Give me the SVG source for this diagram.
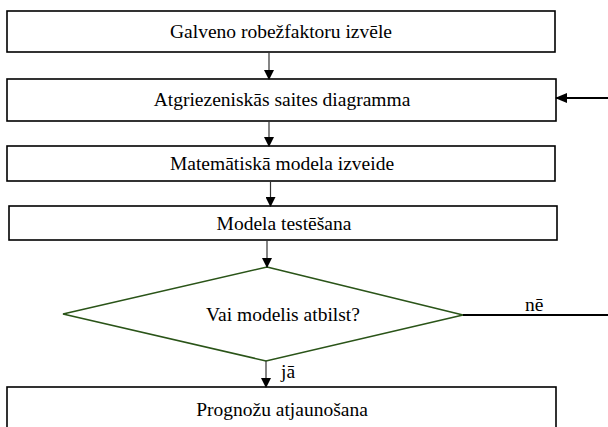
<svg xmlns="http://www.w3.org/2000/svg" width="608" height="427" viewBox="0 0 608 427">
<defs>
<marker id="ah" markerWidth="10" markerHeight="10" refX="9" refY="5" orient="auto" markerUnits="userSpaceOnUse">
<path d="M0,0 L10,5 L0,10 Z" fill="#000"/>
</marker>
<marker id="ah2" markerWidth="12" markerHeight="10" refX="11" refY="5" orient="auto" markerUnits="userSpaceOnUse">
<path d="M0,0 L12,5 L0,10 Z" fill="#000"/>
</marker>
<style>
.box{fill:#fff;stroke:#000;stroke-width:1.6}
.dia{fill:#fff;stroke:#2a5418;stroke-width:1.6}
text{font-family:'Liberation Serif',serif;font-size:19.5px;fill:#000}
.t{text-anchor:middle}
.c{stroke:#333;stroke-width:1.2;fill:none}
.c2{stroke:#000;stroke-width:2;fill:none}
</style>
</defs>
<rect width="608" height="427" fill="#fff"/>
<g id="n1"><rect class="box" x="7" y="11" width="548" height="41"/><text class="t" x="281" y="38" font-family="Liberation Serif, serif">Galveno robežfaktoru izvēle</text></g>
<g id="n2"><rect class="box" x="7" y="79" width="549" height="42"/><text class="t" x="282" y="106" font-family="Liberation Serif, serif">Atgriezeniskās saites diagramma</text></g>
<g id="n3"><rect class="box" x="7" y="146" width="548" height="35"/><text class="t" x="282" y="170" font-family="Liberation Serif, serif">Matemātiskā modela izveide</text></g>
<g id="n4"><rect class="box" x="9" y="206" width="548" height="34"/><text class="t" x="284" y="230" font-family="Liberation Serif, serif">Modela testēšana</text></g>
<g id="n5"><polygon class="dia" points="267,267 463,315 266,361 63,314"/><text class="t" x="283" y="321" font-family="Liberation Serif, serif">Vai modelis atbilst?</text></g>
<g id="n6"><rect class="box" x="7" y="387" width="549" height="45"/><text class="t" x="282" y="416" font-family="Liberation Serif, serif">Prognožu atjaunošana</text></g>
<g id="connectors">
<line class="c" x1="269" y1="52" x2="269" y2="79" marker-end="url(#ah)"/>
<line class="c" x1="269" y1="121" x2="269" y2="146" marker-end="url(#ah)"/>
<line class="c" x1="270.5" y1="181" x2="270.5" y2="206" marker-end="url(#ah)"/>
<line class="c" x1="267" y1="240" x2="267" y2="267" marker-end="url(#ah)"/>
<line class="c" x1="266" y1="361" x2="266" y2="387" marker-end="url(#ah)"/>
<line class="c2" x1="608" y1="98" x2="556" y2="98" marker-end="url(#ah2)"/>
<line class="c2" x1="463" y1="315" x2="608" y2="315"/>
<text x="525" y="311" font-family="Liberation Serif, serif">nē</text>
<text x="281" y="378" font-family="Liberation Serif, serif">jā</text>
</g>
</svg>
